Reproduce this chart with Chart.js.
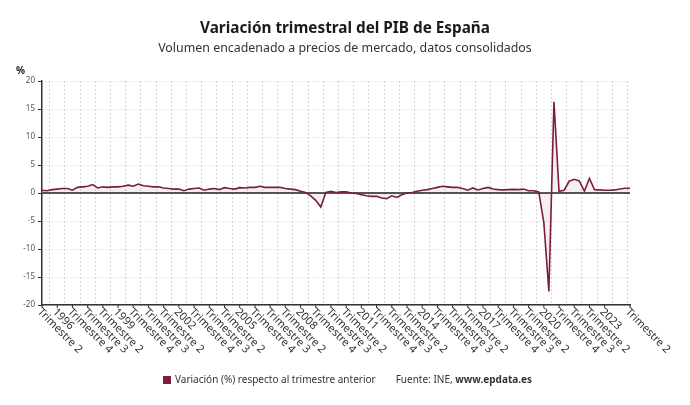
<!DOCTYPE html>
<html lang="es">
<head>
<meta charset="utf-8">
<title>Variación trimestral del PIB de España</title>
<script src="https://cdn.jsdelivr.net/npm/chart.js@4.4.1/dist/chart.umd.min.js"></script>
<style>
  body { margin: 0; background: #fff; font-family: "Noto Sans", sans-serif; color: #222; }
  #wrap { position: relative; width: 690px; height: 405px; }
  #chart { position: absolute; left: 0; top: 0; }
  .title { position: absolute; left: 0; width: 690px; text-align: center; top: 16px; font-size: 15.3px; font-weight: bold; line-height: 22px; color: #1a1a1a; }
  .subtitle { position: absolute; left: 0; width: 690px; text-align: center; top: 38px; font-size: 12.4px; line-height: 20px; color: #333; }
  .unit { position: absolute; left: 16px; top: 63px; font-size: 10px; font-weight: bold; color: #222; }
  .legend { position: absolute; top: 371px; left: 163px; font-size: 10px; line-height: 16px; color: #333; white-space: nowrap; }
  .legend .sq { display: inline-block; width: 8px; height: 8px; background: #7b1d3d; margin-right: 4px; vertical-align: -0.5px; }
  .legend .src { margin-left: 20px; }
</style>
</head>
<body>
<div id="wrap">
  <canvas id="chart" width="690" height="405"></canvas>
  <div class="title">Variación trimestral del PIB de España</div>
  <div class="subtitle">Volumen encadenado a precios de mercado, datos consolidados</div>
  <div class="unit">%</div>
  <div class="legend"><span class="sq"></span>Variación (%) respecto al trimestre anterior<span class="src">Fuente: INE, <b>www.epdata.es</b></span></div>
</div>
<script>
// quarters from 1995 Q2 to 2024 Q2
const years = [1995, 1996, 1997, 1998, 1999, 2000, 2001, 2002, 2003, 2004, 2005, 2006, 2007, 2008, 2009,
  2010, 2011, 2012, 2013, 2014, 2015, 2016, 2017, 2018, 2019, 2020, 2021, 2022, 2023, 2024];
const quarterNames = ["Trimestre 1", "Trimestre 2", "Trimestre 3", "Trimestre 4"];
const firstQuarter = 2; // 1995
const lastQuarter = 2;  // 2024

const variacion = [
  0.5, 0.4, 0.6, 0.7, 0.8, 0.8, 0.5, 1.0, 1.1, 1.2,
  1.5, 0.9, 1.1, 1.0, 1.1, 1.1, 1.2, 1.4, 1.2, 1.6,
  1.3, 1.2, 1.1, 1.1, 0.9, 0.8, 0.7, 0.7, 0.4, 0.7,
  0.8, 0.9, 0.5, 0.7, 0.8, 0.6, 0.95, 0.8, 0.7, 0.95,
  0.9, 1.0, 1.0, 1.2, 1.0, 1.0, 1.0, 1.0, 0.8, 0.7,
  0.6, 0.3, 0.1, -0.5, -1.3, -2.5, 0.1, 0.3, 0.1, 0.2,
  0.2, 0.0, -0.1, -0.3, -0.5, -0.6, -0.6, -0.9, -1.0, -0.5,
  -0.8, -0.3, 0.0, 0.1, 0.3, 0.5, 0.6, 0.8, 1.0, 1.2,
  1.1, 1.0, 1.0, 0.8, 0.5, 0.9, 0.55, 0.8, 1.0, 0.7,
  0.6, 0.55, 0.6, 0.65, 0.6, 0.7, 0.4, 0.4, 0.2, -5.3,
  -17.6, 16.3, 0.3, 0.5, 2.1, 2.45, 2.15, 0.35, 2.6, 0.6,
  0.55, 0.5, 0.5, 0.55, 0.7, 0.85, 0.85
];

const yTicks = [-20, -15, -10, -5, 0, 5, 10, 15, 20];

// first quarter of each year is labelled with the year
const labels = [];
years.forEach((year, yi) => {
  quarterNames.forEach((name, qi) => {
    const q = qi + 1;
    if (yi === 0 && q < firstQuarter) return;
    if (yi === years.length - 1 && q > lastQuarter) return;
    labels.push(q === 1 ? String(year) : name);
  });
});

const lineColor = "#7b1d3d";
const labelStep = 3;

function showLabel(i) {
  const last = labels.length - 1;
  if (i === last) return true;
  return i % labelStep === 0 && last - i > labelStep;
}

const axisExtras = {
  id: "axisExtras",
  beforeDatasetsDraw(chart) {
    const { ctx, chartArea, scales } = chart;
    const y0 = scales.y.getPixelForValue(0);
    ctx.save();
    ctx.strokeStyle = "#555";
    ctx.lineWidth = 2;
    ctx.beginPath();
    ctx.moveTo(chartArea.left, y0);
    ctx.lineTo(chartArea.right, y0);
    ctx.stroke();
    ctx.restore();
  },
  afterDraw(chart) {
    const { ctx, chartArea, scales } = chart;
    const x = scales.x;
    ctx.save();
    ctx.strokeStyle = "#333";
    ctx.lineWidth = 1;
    ctx.fillStyle = "#333";
    ctx.font = '11px "Noto Sans", sans-serif';
    ctx.textAlign = "left";
    ctx.textBaseline = "middle";
    labels.forEach((label, i) => {
      if (!showLabel(i)) return;
      const px = x.getPixelForValue(i);
      ctx.beginPath();
      ctx.moveTo(px, chartArea.bottom);
      ctx.lineTo(px, chartArea.bottom + 3);
      ctx.stroke();
      ctx.save();
      ctx.translate(px, chartArea.bottom + 8);
      ctx.rotate(Math.PI / 4);
      ctx.fillText(label, -4, 0);
      ctx.restore();
    });
    ctx.restore();
  }
};

new Chart(document.getElementById("chart"), {
  type: "line",
  data: {
    labels: labels,
    datasets: [
      {
        label: "Variación (%) respecto al trimestre anterior",
        data: variacion,
        borderColor: lineColor,
        borderWidth: 1.6,
        backgroundColor: "rgba(123, 29, 61, 0.07)",
        fill: "origin",
        pointRadius: 0,
        tension: 0,
      },
    ],
  },
  options: {
    responsive: false,
    animation: false,
    layout: { padding: { top: 81, right: 60, bottom: 0, left: 0 } },
    plugins: {
      legend: { display: false },
      tooltip: { enabled: false },
    },
    scales: {
      x: {
        ticks: { display: false },
        grid: {
          offset: true,
          drawTicks: false,
          color: (c) => (c.index % labelStep === 2 ? "#d4d4d4" : "rgba(0,0,0,0)"),
          lineWidth: 1,
        },
        border: { display: true, color: "#333", width: 1.5, dash: [2, 2] },
        afterFit: (scale) => { scale.height = 100; },
      },
      y: {
        min: -20,
        max: 20,
        afterBuildTicks: (scale) => { scale.ticks = yTicks.map((v) => ({ value: v })); },
        ticks: {
          color: "#555",
          padding: 3,
          font: { family: "Noto Sans", size: 8 },
        },
        grid: {
          color: "#d0d0d0",
          lineWidth: 1,
          drawTicks: true,
          tickLength: 4,
          tickColor: "#333",
        },
        border: { display: true, color: "#333", width: 1.5, dash: [1, 2] },
        afterFit: (scale) => { scale.width = 42; },
      },
    },
  },
  plugins: [axisExtras],
});
</script>
</body>
</html>
